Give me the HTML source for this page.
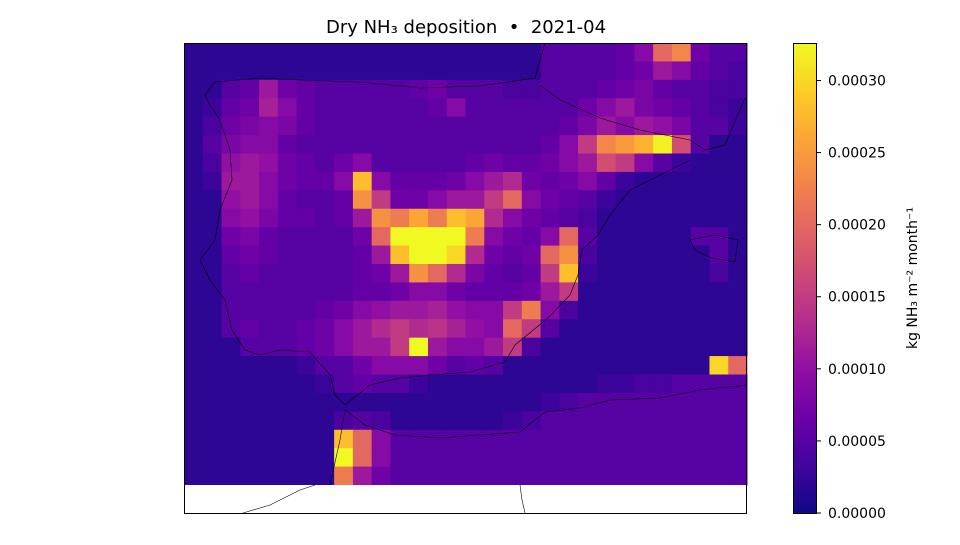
<!DOCTYPE html>
<html><head><meta charset="utf-8"><style>
body{margin:0;background:#fff;}
svg text{font-family:"DejaVu Sans","Liberation Sans",sans-serif;}
</style></head><body>
<svg id="chart" width="960" height="540" xmlns="http://www.w3.org/2000/svg">
<rect width="960" height="540" fill="#fff"/>
<text x="466" y="33" font-size="18" text-anchor="middle" style="white-space:pre">Dry NH₃ deposition  •  2021-04</text>
<g id="cells"></g>
<rect x="184" y="485" width="563" height="28" fill="#fff"/>
<path d="M205,95 L215,82 L260,78 L300,80 L360,82 L420,88 L480,86 L535,78 L545,43 M540,85 L560,100 L600,118 L640,130 L690,140 L705,150 L725,145 L745,98 M690,160 L660,175 L630,190 L610,215 L598,235 L582,250 L578,275 L570,295 L548,318 L515,345 L505,362 L470,372 L430,375 L400,378 L370,385 L345,405 L335,395 L330,375 L310,352 L280,350 L260,355 L245,350 L232,330 L225,300 L210,280 L200,260 L215,240 L220,210 L232,180 L230,150 L220,120 L210,105 L205,95 M330,485 L340,440 L345,410 L365,425 L395,435 L440,438 L480,435 L520,432 L545,412 L580,408 L610,400 L660,398 L700,390 L747,385 M690,240 L715,235 L738,240 L735,262 L712,258 L695,250 Z M520,485 L522,500 L525,513 M243,513 L270,505 L300,490 L315,485" fill="none" stroke="#000" stroke-width="0.6"/>
<rect x="184.5" y="43.5" width="562" height="470" fill="none" stroke="#000" stroke-width="1"/>
<defs><linearGradient id="plasma" x1="0" y1="1" x2="0" y2="0">
<stop offset="0" stop-color="#0d0887"/><stop offset="0.1" stop-color="#41049d"/><stop offset="0.2" stop-color="#6a00a8"/><stop offset="0.3" stop-color="#8f0da4"/><stop offset="0.4" stop-color="#b12a90"/><stop offset="0.5" stop-color="#cc4778"/><stop offset="0.6" stop-color="#e16462"/><stop offset="0.7" stop-color="#f2844b"/><stop offset="0.8" stop-color="#fca636"/><stop offset="0.9" stop-color="#fcce25"/><stop offset="1" stop-color="#f0f921"/></linearGradient></defs>
<rect x="793.5" y="43.5" width="23" height="470" fill="url(#plasma)" stroke="#000" stroke-width="1"/>
<g id="cbticks"></g>
<text transform="translate(917,278) rotate(-90)" font-size="14" text-anchor="middle">kg NH₃ m⁻² month⁻¹</text>
</svg>
<script>
// values in units of 1e-5 kg NH3 m^-2 month^-1
const grid = [
[2,2,2,2,2,2,2,2,2,2,2,2,2,2,2,2,2,2,2,5,5,5,5,6,9,20,23,7,5,5],
[2,2,2,2,2,2,2,2,2,2,2,2,2,2,2,2,2,2,2,5,5,5,5,6,7,11,9,6,5,4],
[2,2,5,6,11,7,6,5,5,5,5,5,6,7,5,5,5,4,4,5,5,5,6,7,8,6,5,5,4,4],
[2,3,6,7,12,9,6,5,5,5,5,5,5,6,9,5,5,5,5,5,5,7,9,11,8,7,6,5,4,3],
[2,4,7,8,9,8,6,5,5,5,5,5,5,5,5,5,5,5,5,5,6,8,11,9,11,10,8,5,5,3],
[2,5,8,9,9,6,5,5,5,5,5,5,5,5,5,5,5,5,5,6,9,15,23,25,27,32,17,5,2,2],
[2,4,10,11,10,7,6,5,7,9,5,5,5,5,5,6,7,6,6,7,9,11,17,15,9,5,3,2,2,2],
[2,3,11,11,9,7,6,6,9,28,9,6,6,6,7,9,11,13,7,6,7,9,6,3,2,2,2,2,2,2],
[2,2,10,11,9,6,5,5,6,24,15,7,7,9,11,11,15,20,9,7,6,5,3,2,2,2,2,2,2,2],
[2,2,9,10,8,6,6,5,6,11,24,22,26,22,28,26,13,9,7,6,5,4,2,2,2,2,2,2,2,2],
[2,2,7,8,6,5,5,5,5,7,20,33,33,33,33,22,9,7,6,9,20,5,2,2,2,2,2,5,5,2],
[2,2,6,7,6,5,5,5,5,6,11,28,33,33,30,13,7,6,7,20,24,4,2,2,2,2,2,2,5,2],
[2,2,5,6,5,5,5,5,5,6,7,11,24,20,13,8,6,5,6,15,28,3,2,2,2,2,2,2,4,2],
[2,2,5,5,5,5,5,5,5,6,6,7,9,9,7,6,6,6,7,11,15,2,2,2,2,2,2,2,2,2],
[2,2,5,5,5,5,5,6,7,9,10,11,11,12,10,9,9,15,22,9,4,2,2,2,2,2,2,2,2,2],
[2,2,5,6,5,5,6,7,9,11,13,15,13,14,12,10,9,20,15,5,2,2,2,2,2,2,2,2,2,2],
[2,2,2,5,5,5,6,7,9,11,11,15,33,11,9,9,11,15,4,2,2,2,2,2,2,2,2,2,2,2],
[2,2,2,2,2,2,3,5,5,7,9,9,9,7,5,6,5,2,2,2,2,2,2,2,2,2,2,2,30,20],
[2,2,2,2,2,2,2,3,5,6,5,5,3,2,2,2,2,2,2,2,2,2,3,3,4,4,5,5,5,5],
[2,2,2,2,2,2,2,2,2,2,2,2,2,2,2,2,2,2,2,3,4,5,5,5,5,5,5,5,5,5],
[2,2,2,2,2,2,2,2,4,5,4,2,2,2,2,2,2,3,4,5,5,5,5,5,5,5,5,5,5,5],
[2,2,2,2,2,2,2,2,28,20,9,5,5,5,5,5,5,5,5,5,5,5,5,5,5,5,5,5,5,5],
[2,2,2,2,2,2,2,2,33,20,9,5,5,5,5,5,5,5,5,5,5,5,5,5,5,5,5,5,5,5],
[2,2,2,2,2,2,2,2,22,11,7,5,5,5,5,5,5,5,5,5,5,5,5,5,5,5,5,5,5,5]
];
const tickValues = [0, 5, 10, 15, 20, 25, 30];
const tickLabels = ["0.00000","0.00005","0.00010","0.00015","0.00020","0.00025","0.00030"];
const vmax = 32.6;
const stops=["#0d0887","#41049d","#6a00a8","#8f0da4","#b12a90","#cc4778","#e16462","#f2844b","#fca636","#fcce25","#f0f921"];
function hex(h){return [1,3,5].map(i=>parseInt(h.substr(i,2),16));}
function plasma(t){t=Math.max(0,Math.min(1,t))*10;const i=Math.min(9,Math.floor(t)),f=t-i;const a=hex(stops[i]),b=hex(stops[i+1]);return "rgb("+a.map((v,k)=>Math.round(v+(b[k]-v)*f)).join(",")+")";}
const X0=184,X1=747,Y0=43,Y1=485;
const nR=grid.length,nC=grid[0].length;
function xs(c){return X0+(X1-X0)*c/nC;}
function ys(r){return Y0+(Y1-Y0)*r/nR;}
function cy(v){return 513-(513-43)*v/vmax;}
const ns="http://www.w3.org/2000/svg";
const g=document.getElementById("cells");
grid.forEach((row,r)=>row.forEach((v,c)=>{
 const e=document.createElementNS(ns,"rect");
 e.setAttribute("x",xs(c));e.setAttribute("y",ys(r));
 e.setAttribute("width",xs(c+1)-xs(c)+0.5);e.setAttribute("height",ys(r+1)-ys(r)+0.5);
 e.setAttribute("fill",plasma(v/vmax));
 
 
 g.appendChild(e);
}));
const tg=document.getElementById("cbticks");
tickValues.forEach((v,i)=>{
 const y=cy(v);
 const l=document.createElementNS(ns,"line");
 l.setAttribute("x1",816);l.setAttribute("x2",821);l.setAttribute("y1",y);l.setAttribute("y2",y);l.setAttribute("stroke","#000");
 
 
 tg.appendChild(l);
 const t=document.createElementNS(ns,"text");
 t.setAttribute("x",828);t.setAttribute("y",y+5);t.setAttribute("font-size","14");
 t.textContent=tickLabels[i];
 
 
 tg.appendChild(t);
});
</script>
</body></html>
